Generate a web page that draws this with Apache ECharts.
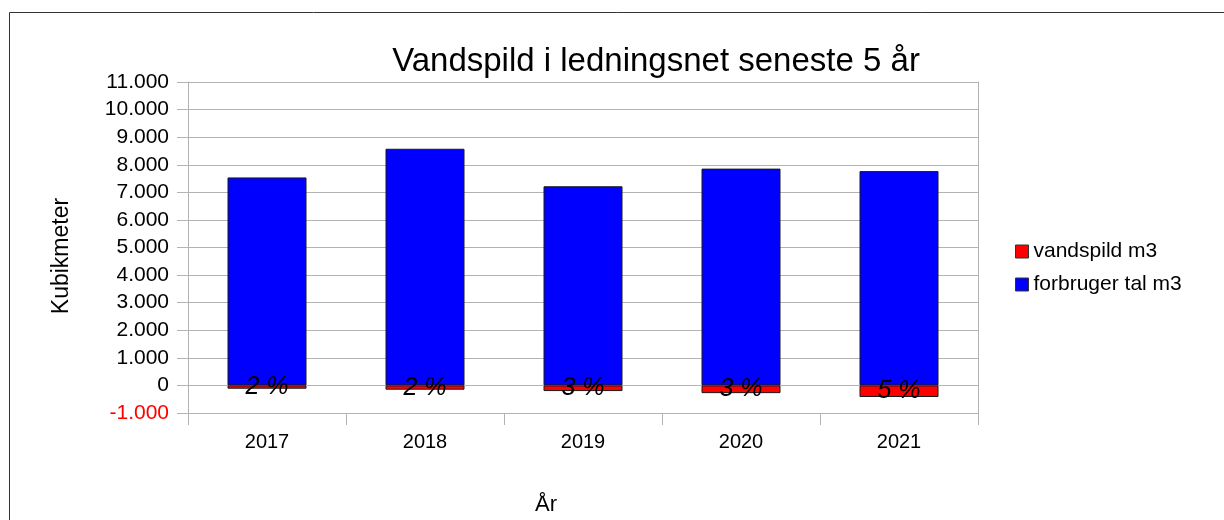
<!DOCTYPE html>
<html>
<head>
<meta charset="utf-8">
<script src="https://cdn.jsdelivr.net/npm/echarts@6/dist/echarts.min.js"></script>
<style>
html,body{margin:0;padding:0;background:#fff;}
#chart{width:1224px;height:520px;}
</style>
</head>
<body>
<div id="chart"></div>
<script>
const years = ['2017', '2018', '2019', '2020', '2021'];
const forbruger = [7540, 8580, 7220, 7860, 7770];
const vandspild = [-120, -155, -205, -280, -420];
const pctLabels = ['2 %', '2 %', '3 %', '3 %', '5 %'];
const yTicks = { min: -1000, max: 11000, step: 1000 };

const FONT = '"Liberation Sans", Arial, sans-serif';
const chart = echarts.init(document.getElementById('chart'), null, { renderer: 'canvas' });

function fmt(v) {
  const s = Math.abs(v).toString().replace(/\B(?=(\d{3})+(?!\d))/g, '.');
  return (v < 0 ? '-' : '') + s;
}

chart.setOption({
  animation: false,
  backgroundColor: '#fff',
  textStyle: { fontFamily: FONT },
  title: {
    text: 'Vandspild i ledningsnet seneste 5 år',
    left: 651, top: 40, textAlign: 'center',
    textStyle: { fontFamily: FONT, fontSize: 33, fontWeight: 'normal', color: '#000' }
  },
  legend: {
    orient: 'vertical', left: 1010, top: 236,
    itemWidth: 13, itemHeight: 13, itemGap: 12,
    icon: 'rect',
    data: ['vandspild m3', 'forbruger tal m3'],
    itemStyle: { borderColor: '#333', borderWidth: 1 },
    textStyle: { fontFamily: FONT, fontSize: 21, color: '#000', padding: [0, 0, 0, 0] }
  },
  grid: { left: 188, right: 246, top: 82, bottom: 107, containLabel: false },
  xAxis: {
    type: 'category', data: years, boundaryGap: true,
    axisLine: { show: true, onZero: false, lineStyle: { color: '#b3b3b3' } },
    axisTick: { show: true, length: 12, interval: 0, lineStyle: { color: '#b3b3b3' } },
    axisLabel: { fontFamily: FONT, fontSize: 20, color: '#000', margin: 19 },
    splitLine: { show: false }
  },
  yAxis: [{
    type: 'value', min: yTicks.min, max: yTicks.max, interval: yTicks.step,
    axisLine: { show: true, lineStyle: { color: '#b3b3b3' } },
    axisTick: { show: true, length: 11, lineStyle: { color: '#b3b3b3' } },
    axisLabel: {
      fontFamily: FONT, fontSize: 21, margin: 19,
      formatter: fmt,
      color: function (v) { return v < 0 ? '#ff0000' : '#000'; }
    },
    splitLine: { show: true, lineStyle: { color: '#b3b3b3' } }
  }, {
    type: 'value', min: yTicks.min, max: yTicks.max, interval: yTicks.step, position: 'right',
    axisLine: { show: true, lineStyle: { color: '#b3b3b3' } },
    axisTick: { show: false }, axisLabel: { show: false }, splitLine: { show: false }
  }],
  series: [{
    name: 'forbruger tal m3', type: 'bar', stack: 'tot', data: forbruger,
    barWidth: '50%',
    itemStyle: { color: '#0000ff', borderColor: '#1a1a1a', borderWidth: 1 }
  }, {
    name: 'vandspild m3', type: 'bar', stack: 'tot', data: vandspild,
    barWidth: '50%',
    itemStyle: { color: '#ff0000', borderColor: '#1a1a1a', borderWidth: 1 },
    label: {
      show: true, position: 'inside', offset: [0, 7],
      formatter: function (p) { return pctLabels[p.dataIndex]; },
      fontFamily: FONT, fontSize: 25, fontStyle: 'italic', color: '#000'
    },
    labelLayout: { hideOverlap: false }
  }],
  graphic: [{
    type: 'rect', silent: true, z: -1,
    shape: { x: 9.5, y: 12.5, width: 1300, height: 600 },
    style: { fill: 'none', stroke: '#333', lineWidth: 1 }
  }, {
    type: 'text', silent: true,
    x: 62, y: 256, rotation: Math.PI / 2,
    style: { text: 'Kubikmeter', font: '23px ' + FONT, fill: '#000', align: 'center', verticalAlign: 'middle' }
  }, {
    type: 'text', silent: true,
    x: 546, y: 505,
    style: { text: 'År', font: '22px ' + FONT, fill: '#000', align: 'center', verticalAlign: 'middle' }
  }]
});
</script>
</body>
</html>
